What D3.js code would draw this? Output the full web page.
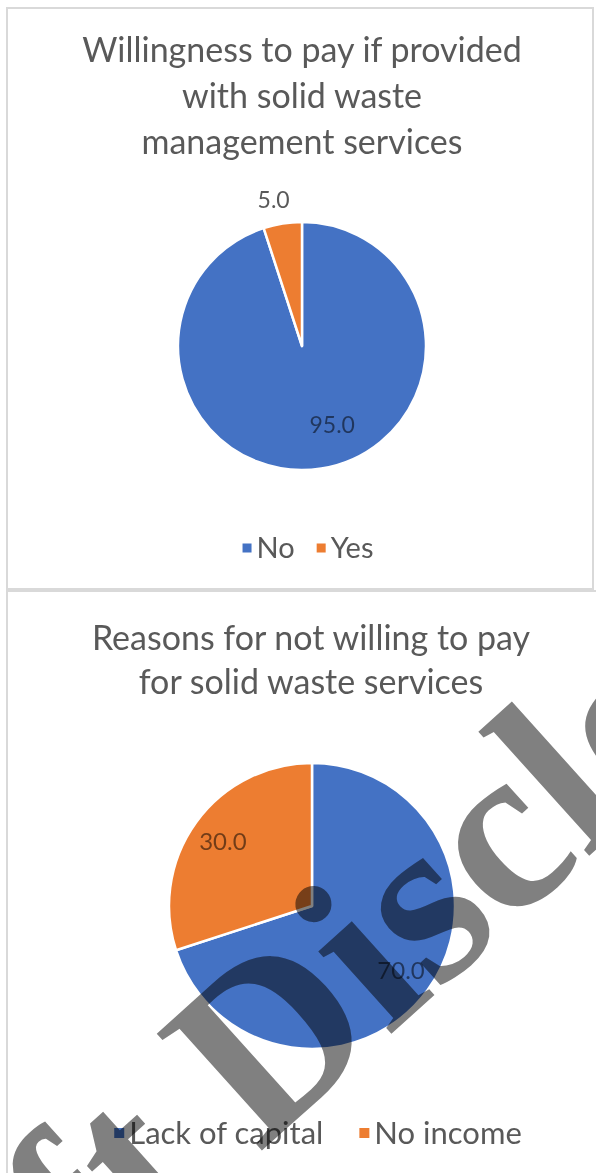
<!DOCTYPE html>
<html>
<head>
<meta charset="utf-8">
<script src="https://cdn.jsdelivr.net/npm/d3@7"></script>
<style>
  html, body { margin: 0; padding: 0; background: #fff; }
  svg { display: block; }
</style>
</head>
<body>
<svg id="chart" width="596" height="1173"></svg>
<script>
// ---- data ----
const chart1Title = ["Willingness to pay if provided", "with solid waste", "management services"];
const chart1Categories = ["No", "Yes"];
const chart1Values = [95.0, 5.0];

const chart2Title = ["Reasons for not willing to pay", "for solid waste services"];
const chart2Categories = ["Lack of capital", "No income"];
const chart2Values = [70.0, 30.0];

const watermarkText = "Draft Disclosure";

// ---- style ----
const colors = ["#4472C4", "#ED7D31"];
const fontFamily = "Lato, 'Open Sans', sans-serif";
const textColor = "#595959";

const svg = d3.select("#chart");
const W = 596, H = 1173;
svg.append("rect").attr("width", W).attr("height", H).attr("fill", "#fff");

function drawPanel(cfg) {
  const g = svg.append("g");
  g.append("rect")
    .attr("x", cfg.box[0]).attr("y", cfg.box[1])
    .attr("width", cfg.box[2]).attr("height", cfg.box[3])
    .attr("fill", "#fff").attr("stroke", "#d9d9d9").attr("stroke-width", 2);

  // title
  g.append("text")
    .attr("text-anchor", "middle")
    .attr("font-family", fontFamily).attr("font-size", cfg.titleSize)
    .attr("fill", textColor)
    .selectAll("tspan").data(cfg.title).join("tspan")
    .attr("x", cfg.titleX)
    .attr("y", (d, i) => cfg.titleY + i * cfg.titleLH)
    .text(d => d);

  const pie = d3.pie().sort(null).value(d => d.v)(cfg.cats.map((c, i) => ({ c, v: cfg.vals[i], i })));
  const arc = d3.arc().innerRadius(0).outerRadius(cfg.r);
  const pg = g.append("g").attr("transform", `translate(${cfg.cx},${cfg.cy})`);
  pg.selectAll("path").data(pie).join("path")
    .attr("d", arc)
    .attr("fill", d => colors[d.data.i])
    .attr("stroke", "#fff").attr("stroke-width", 2.5).attr("stroke-linejoin", "round");

  // labels
  pg.selectAll("text.lbl").data(pie).join("text")
    .attr("class", "lbl")
    .each(function (d, i) {
      const lr = cfg.labelR[i] * cfg.r;
      const a = (d.startAngle + d.endAngle) / 2 + (cfg.labelShift[i] || 0) * Math.PI / 180;
      const x = lr * Math.sin(a), y = -lr * Math.cos(a);
      const outside = cfg.labelR[i] > 1;
      d3.select(this)
        .attr("x", x).attr("y", y)
        .attr("dy", "0.35em")
        .attr("text-anchor", "middle")
        .attr("font-family", fontFamily).attr("font-size", cfg.labelSize)
        .attr("fill", outside ? textColor : "#000")
        .attr("fill-opacity", outside ? 1 : 0.52)
        .text(d3.format(".1f")(d.data.v));
    });

  // legend
  const lg = g.append("g").attr("font-family", fontFamily).attr("font-size", cfg.legendSize).attr("fill", textColor);
  let x = cfg.legendX;
  cfg.cats.forEach((c, i) => {
    lg.append("rect").attr("x", x).attr("y", cfg.legendY - cfg.sq / 2)
      .attr("width", cfg.sq).attr("height", cfg.sq).attr("fill", colors[i]);
    const t = lg.append("text").attr("x", x + cfg.sq + 5).attr("y", cfg.legendY).attr("dy", "0.35em").text(c);
    const w = t.node().getComputedTextLength();
    x += cfg.sq + 5 + w + cfg.legendGap;
  });
  // center legend
  const totalW = x - cfg.legendGap - cfg.legendX;
  lg.attr("transform", `translate(${cfg.legendCenter - totalW / 2 - cfg.legendX},0)`);
}

drawPanel({
  box: [7, 8, 586, 581],
  title: chart1Title, titleX: 302, titleY: 62, titleLH: 46, titleSize: 34,
  cats: chart1Categories, vals: chart1Values,
  cx: 302, cy: 346, r: 124,
  labelR: [0.68, 1.2], labelShift: [-12, -2], labelSize: 23,
  legendX: 0, legendY: 548, legendCenter: 308, legendSize: 29, sq: 9, legendGap: 22
});

drawPanel({
  box: [7, 591, 600, 600],
  title: chart2Title, titleX: 311, titleY: 650, titleLH: 44, titleSize: 34,
  cats: chart2Categories, vals: chart2Values,
  cx: 312, cy: 906, r: 143,
  labelR: [0.77, 0.77], labelShift: [0, 0], labelSize: 24,
  legendX: 0, legendY: 1133, legendCenter: 318, legendSize: 31, sq: 10, legendGap: 36
});

// watermark (anchored so the "i" dot sits near the pie centre)
const wmSize = 240, wmAngle = -42;
const rad = wmAngle * Math.PI / 180;
const ux = Math.cos(rad), uy = Math.sin(rad);      // along baseline
const vx = Math.sin(rad), vy = -Math.cos(rad);     // "up" in text frame
const dotX = 316, dotY = 908;
const along = 3.443 * wmSize, up = 0.6 * wmSize;
const sx = dotX - vx * up - ux * along;
const sy = dotY - vy * up - uy * along;
svg.append("text")
  .attr("transform", `translate(${sx},${sy}) rotate(${wmAngle})`)
  .attr("font-family", "'Liberation Serif', 'Times New Roman', serif")
  .attr("font-weight", "bold")
  .attr("font-size", wmSize)
  .attr("fill", "#808080")
  .style("mix-blend-mode", "multiply")
  .text(watermarkText);
</script>
</body>
</html>
